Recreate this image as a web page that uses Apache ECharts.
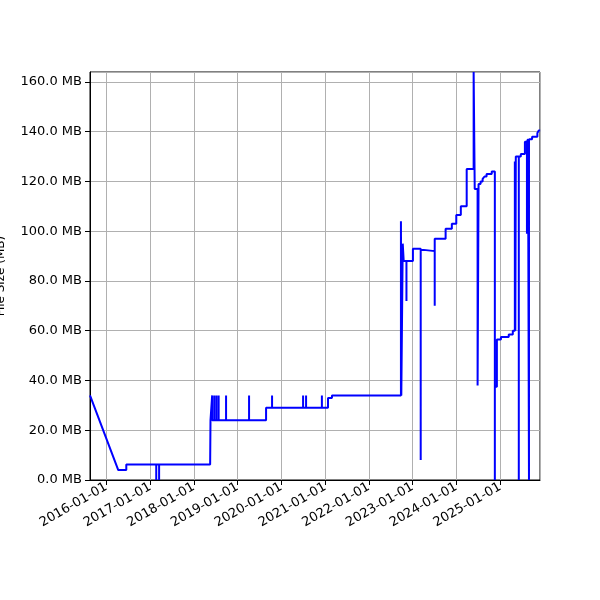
<!DOCTYPE html>
<html><head><meta charset="utf-8">
<script src="https://cdn.jsdelivr.net/npm/echarts@6/dist/echarts.min.js"></script>
<style>html,body{margin:0;padding:0;background:#fff}#c{width:600px;height:600px}</style>
</head><body><div id="c"></div>
<script>
// [date, MB] points; repeated dates draw the vertical steps/spikes
const points = [
['2015-08-18',34],['2016-04-10',4],['2016-06-16',4],['2016-06-16',6.2],
['2017-02-21',6.2],['2017-02-21',0],['2017-02-21',6.2],['2017-03-17',6.2],['2017-03-17',0],['2017-03-17',6.2],
['2018-05-17',6.2],['2018-05-20',24],['2018-06-03',24],['2018-06-03',34],['2018-06-03',24],
['2018-06-21',24],['2018-06-21',34],['2018-06-21',24],['2018-07-09',24],['2018-07-09',34],['2018-07-09',24],
['2018-07-27',24],['2018-07-27',34],['2018-07-27',24],
['2018-09-27',24],['2018-09-27',34],['2018-09-27',24],['2019-04-07',24],['2019-04-07',34],['2019-04-07',24],
['2019-08-27',24],['2019-08-27',29],['2019-10-16',29],['2019-10-16',34],['2019-10-16',29],
['2020-07-01',29],['2020-07-01',34],['2020-07-01',29],['2020-07-26',29],['2020-07-26',34],['2020-07-26',29],
['2020-12-05',29],['2020-12-05',34],['2020-12-05',29],
['2021-01-25',29],['2021-01-25',33],['2021-02-27',33],['2021-02-27',34],
['2022-09-26',34],['2022-09-26',104],['2022-09-29',34],['2022-10-11',34],['2022-10-11',95],['2022-10-19',95],['2022-10-19',88],
['2022-11-11',88],['2022-11-11',72],['2022-11-11',88],
['2023-01-04',88],['2023-01-04',93],['2023-03-10',93],['2023-03-10',8],['2023-03-10',92.5],['2023-04-04',92.5],['2023-04-04',92],
['2023-07-05',92],['2023-07-05',70],['2023-07-05',97],['2023-10-04',97],['2023-10-04',101],['2023-11-25',101],['2023-11-25',103],
['2024-01-01',103],['2024-01-01',106.5],['2024-02-08',106.5],['2024-02-08',110],['2024-03-28',110],['2024-03-28',125],
['2024-05-25',125],['2024-05-25',164],['2024-06-03',164],['2024-06-03',117],['2024-06-27',117],['2024-06-27',38],['2024-07-05',38],['2024-07-05',119],
['2024-07-22',119],['2024-07-22',120],['2024-08-08',120],['2024-08-08',121],['2024-08-24',121],['2024-08-24',122],
['2024-09-10',122],['2024-09-10',123],['2024-10-23',123],['2024-10-23',124],
['2024-11-18',124],['2024-11-18',0],['2024-11-18',37.5],['2024-12-05',37.5],['2024-12-05',56.5],['2025-01-08',56.5],['2025-01-08',57.5],
['2025-03-14',57.5],['2025-03-14',58.5],['2025-04-17',58.5],['2025-04-17',60],
['2025-05-04',60],['2025-05-04',128],['2025-05-08',60],['2025-05-12',60],['2025-05-12',130],
['2025-06-06',130],['2025-06-06',0],['2025-06-06',130],['2025-06-23',130],['2025-06-23',131],
['2025-07-27',131],['2025-07-27',136],['2025-08-13',136],['2025-08-13',99],['2025-08-13',136],['2025-08-22',136],['2025-08-22',137],
['2025-08-30',137],['2025-08-30',0],['2025-08-30',137],['2025-09-25',137],['2025-09-25',138],
['2025-11-08',138],['2025-11-08',139.5],['2025-11-20',139.5],['2025-11-20',140.5],['2025-12-01',140.5]
];
const yTicks = [0,20,40,60,80,100,120,140,160];
const chart = echarts.init(document.getElementById('c'));
chart.setOption({
  animation:false,
  grid:{left:90,right:60,top:72,bottom:120,show:true,borderColor:'#000',borderWidth:1,outerBoundsMode:'none',containLabel:false},
  xAxis:{type:'time',min:'2015-08-18',max:'2025-11-30',
    minInterval:365*86400000, maxInterval:366*86400000,
    axisLine:{lineStyle:{color:'#000'}},axisTick:{lineStyle:{color:'#000'}},
    splitLine:{show:true,lineStyle:{color:'#b0b0b0'}},
    axisLabel:{rotate:30,color:'#000',fontSize:13,fontFamily:'DejaVu Sans',formatter:'{yyyy}-{MM}-{dd}',margin:6}},
  yAxis:{type:'value',min:0,max:164,interval:20,
    name:'File Size (MB)',nameLocation:'middle',nameGap:83,nameTextStyle:{fontSize:12,color:'#000',fontFamily:'DejaVu Sans'},
    axisLine:{show:true,lineStyle:{color:'#000'}},axisTick:{show:true,lineStyle:{color:'#000'}},
    splitLine:{lineStyle:{color:'#b0b0b0'}},
    axisLabel:{color:'#000',fontSize:13,fontFamily:'DejaVu Sans',showMaxLabel:false,
      formatter:v=>yTicks.includes(v)?v.toFixed(1)+' MB':''}},
  series:[{type:'line',data:points,showSymbol:false,lineStyle:{color:'#0000ff',width:2}}]
});
</script></body></html>
